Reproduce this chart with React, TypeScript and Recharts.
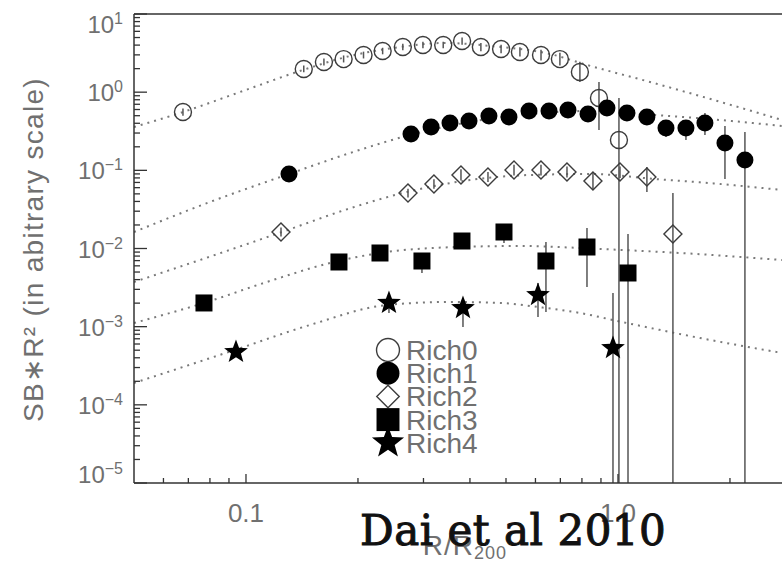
import { ComposedChart, Line, Scatter, XAxis, YAxis, ErrorBar } from "recharts";

const W = 782;
const H = 564;
const TOP = 14;
const BOTTOM = 483;
const FONT = '"Liberation Sans", Arial, sans-serif';
const GREY = "#707070";
const AXIS = "#333";
const MARK = "#3c3c3c";
const BAR = "#555";
const CURVE = "#7a7a7a";

// axis setup
const X_DOMAIN = [0.05, 2.76];
const Y_DOMAIN = [1e-5, 10];
const xTicks = [0.06, 0.07, 0.08, 0.09, 0.1, 0.2, 0.3, 0.4, 0.5, 0.6, 0.7, 0.8, 0.9, 1, 2];
const yDecades = [1e-5, 1e-4, 1e-3, 1e-2, 1e-1, 1, 10];
const mantissas = [1, 2, 3, 4, 5, 6, 7, 8, 9];
const yTicks = [...yDecades.slice(0, -1).flatMap((d) => mantissas.map((m) => d * m)), 10];

// measured profiles (SB*R^2 vs R/R200), with error bar bounds
const rich0R = [0.0677, 0.143, 0.162, 0.183, 0.207, 0.233, 0.264, 0.299, 0.339, 0.381, 0.428, 0.485, 0.545, 0.621, 0.698, 0.79, 0.889, 1.006];
const rich0Val = [0.557, 1.98, 2.43, 2.65, 2.99, 3.36, 3.78, 4.01, 4.01, 4.51, 3.78, 3.57, 3.27, 2.99, 2.65, 1.81, 0.842, 0.244];
const rich0Lo = [0.5, 1.8, 2.2, 2.4, 2.7, 3.05, 3.45, 3.65, 3.65, 4.05, 3.35, 3.15, 2.85, 2.55, 2.2, 1.35, 0.328, 1e-5];
const rich0Hi = [0.62, 2.2, 2.7, 2.95, 3.3, 3.7, 4.15, 4.4, 4.4, 5.0, 4.25, 4.05, 3.75, 3.5, 3.2, 2.45, 1.35, 0.84];

const rich1R = [0.1305, 0.2777, 0.3145, 0.3535, 0.3977, 0.4499, 0.5093, 0.5765, 0.6525, 0.7338, 0.8307, 0.934, 1.057, 1.196, 1.346, 1.523, 1.713, 1.939, 2.194];
const rich1Val = [0.0898, 0.2917, 0.3584, 0.4034, 0.4278, 0.4956, 0.4813, 0.5742, 0.5742, 0.5913, 0.5257, 0.6272, 0.5415, 0.4813, 0.3479, 0.348, 0.4034, 0.2239, 0.1356];
const rich1Lo = [0.082, 0.27, 0.33, 0.37, 0.39, 0.45, 0.44, 0.52, 0.52, 0.54, 0.48, 0.57, 0.49, 0.43, 0.267, 0.244, 0.283, 0.0775, 1e-5];
const rich1Hi = [0.098, 0.315, 0.39, 0.44, 0.47, 0.54, 0.525, 0.63, 0.63, 0.65, 0.58, 0.69, 0.6, 0.54, 0.4, 0.4, 0.5415, 0.369, 0.309];

const rich2R = [0.1242, 0.2726, 0.3201, 0.3784, 0.4472, 0.5254, 0.6209, 0.7293, 0.8565, 1.0125, 1.196, 1.405];
const rich2Val = [0.01626, 0.0513, 0.0669, 0.0872, 0.0822, 0.101, 0.101, 0.0952, 0.0731, 0.0952, 0.0822, 0.01533];
const rich2Lo = [0.0142, 0.045, 0.058, 0.074, 0.071, 0.086, 0.086, 0.081, 0.056, 0.08, 0.0529, 1e-5];
const rich2Hi = [0.0185, 0.058, 0.077, 0.103, 0.095, 0.118, 0.118, 0.112, 0.0952, 0.112, 0.11, 0.0513];

const rich3R = [0.0771, 0.1778, 0.2292, 0.2972, 0.3807, 0.4938, 0.6403, 0.8254, 1.064];
const rich3Val = [0.00201, 0.00672, 0.00876, 0.00692, 0.01247, 0.01626, 0.00692, 0.01045, 0.00486];
const rich3Lo = [0.00185, 0.0062, 0.0081, 0.00486, 0.0115, 0.0118, 0.00154, 0.00322, 1e-5];
const rich3Hi = [0.00218, 0.0073, 0.0095, 0.0076, 0.0135, 0.0175, 0.0121, 0.0183, 0.01533];

const rich4R = [0.094, 0.2423, 0.3831, 0.6095, 0.9695];
const rich4Val = [4.74e-4, 2.01e-3, 1.73e-3, 2.54e-3, 5.33e-4];
const rich4Lo = [4.3e-4, 1.5e-3, 9.9e-4, 1.33e-3, 1e-5];
const rich4Hi = [5.2e-4, 2.2e-3, 1.9e-3, 3.62e-3, 2.7e-3];

// dotted model curves
const model0R = [0.05, 0.0677, 0.0981, 0.1422, 0.1904, 0.2594, 0.3428, 0.4528, 0.6566, 0.8253, 1.219, 1.661, 2.76];
const model0Val = [0.358, 0.557, 1.035, 1.921, 2.9, 3.78, 4.26, 3.9, 3.08, 2.23, 1.35, 0.893, 0.441];
const model1R = [0.05, 0.08, 0.1305, 0.1904, 0.276, 0.4, 0.5799, 0.8409, 1.257, 1.88, 2.76];
const model1Val = [0.01626, 0.03936, 0.0898, 0.1666, 0.2832, 0.4154, 0.5257, 0.5743, 0.5105, 0.4406, 0.3692];
const model2R = [0.05, 0.0752, 0.125, 0.1845, 0.2709, 0.4, 0.5799, 0.8409, 1.257, 1.88, 2.76];
const model2Val = [0.003729, 0.007129, 0.01626, 0.0311, 0.05284, 0.07521, 0.0872, 0.0898, 0.0775, 0.0669, 0.056];
const model3R = [0.05, 0.0771, 0.116, 0.1682, 0.2292, 0.3693, 0.545, 0.8947, 1.468, 2.76];
const model3Val = [0.001114, 0.00201, 0.003842, 0.006527, 0.008763, 0.01045, 0.01076, 0.009856, 0.008763, 0.007129];
const model4R = [0.05, 0.0934, 0.1486, 0.2393, 0.3535, 0.4818, 0.6094, 0.7903, 1.025, 1.661, 2.76];
const model4Val = [1.903e-4, 5.04e-4, 1.051e-3, 1.894e-3, 2.069e-3, 2.01e-3, 1.785e-3, 1.496e-3, 1.148e-3, 7.16e-4, 4.61e-4];

type Kind = "openCircle" | "dot" | "openDiamond" | "square" | "star";

const SERIES: { name: string; kind: Kind; r: number[]; v: number[]; lo: number[]; hi: number[]; mr: number[]; mv: number[] }[] = [
  { name: "Rich0", kind: "openCircle", r: rich0R, v: rich0Val, lo: rich0Lo, hi: rich0Hi, mr: model0R, mv: model0Val },
  { name: "Rich1", kind: "dot", r: rich1R, v: rich1Val, lo: rich1Lo, hi: rich1Hi, mr: model1R, mv: model1Val },
  { name: "Rich2", kind: "openDiamond", r: rich2R, v: rich2Val, lo: rich2Lo, hi: rich2Hi, mr: model2R, mv: model2Val },
  { name: "Rich3", kind: "square", r: rich3R, v: rich3Val, lo: rich3Lo, hi: rich3Hi, mr: model3R, mv: model3Val },
  { name: "Rich4", kind: "star", r: rich4R, v: rich4Val, lo: rich4Lo, hi: rich4Hi, mr: model4R, mv: model4Val },
];

const points = (s: (typeof SERIES)[number]) =>
  s.r.map((x, i) => ({ x, y: s.v[i], err: [s.v[i] - s.lo[i], s.hi[i] - s.v[i]] }));
const curve = (s: (typeof SERIES)[number]) => s.mr.map((x, i) => ({ x, y: s.mv[i] }));

const isDecade = (v: number) => Math.abs(Math.log10(v) - Math.round(Math.log10(v))) < 1e-6;

function starPoints(cx: number, cy: number, R: number, r: number) {
  const pts: string[] = [];
  for (let i = 0; i < 10; i++) {
    const a = -Math.PI / 2 + (i * Math.PI) / 5;
    const rad = i % 2 === 0 ? R : r;
    pts.push(`${cx + rad * Math.cos(a)},${cy + rad * Math.sin(a)}`);
  }
  return pts.join(" ");
}

function Marker({ kind, cx, cy, k = 1 }: { kind: Kind; cx: number; cy: number; k?: number }) {
  if (kind === "openCircle") return <circle cx={cx} cy={cy} r={8.5 * k} fill="none" stroke={MARK} strokeWidth={1.4} />;
  if (kind === "dot") return <circle cx={cx} cy={cy} r={8.5 * k} fill="#000" />;
  if (kind === "openDiamond") {
    const d = 9 * k;
    return <polygon points={`${cx},${cy - d} ${cx + d},${cy} ${cx},${cy + d} ${cx - d},${cy}`} fill="none" stroke={MARK} strokeWidth={1.4} />;
  }
  if (kind === "square") {
    const h = 8.5 * k;
    return <rect x={cx - h} y={cy - h} width={2 * h} height={2 * h} fill="#000" />;
  }
  return <polygon points={starPoints(cx, cy, 12.5 * k, 5.2 * k)} fill="#000" />;
}

function BottomTick(p: any) {
  const { x, y } = p;
  const v = p.payload.value;
  const major = isDecade(v);
  return (
    <g>
      <line x1={x} x2={x} y1={y} y2={y - (major ? 9 : 5)} stroke={AXIS} strokeWidth={1.3} />
      {major ? (
        <text x={x} y={y + 39} textAnchor="middle" fill={GREY} fontSize={26} fontFamily={FONT}>
          {v.toFixed(1)}
        </text>
      ) : null}
    </g>
  );
}

function TopTick(p: any) {
  const { x, y } = p;
  const major = isDecade(p.payload.value);
  return <line x1={x} x2={x} y1={y} y2={y + (major ? 9 : 5)} stroke={AXIS} strokeWidth={1.3} />;
}

function LeftTick(p: any) {
  const { x, y } = p;
  const v = p.payload.value;
  const major = isDecade(v);
  const e = Math.round(Math.log10(v));
  const base = Math.min(Math.max(y + 9, TOP + 19), BOTTOM);
  return (
    <g>
      <line x1={x} x2={x + (major ? 13 : 6)} y1={y} y2={y} stroke={AXIS} strokeWidth={1.3} />
      {major ? (
        <text x={x - 11} y={base} textAnchor="end" fill={GREY} fontSize={24} fontFamily={FONT}>
          10
          <tspan dy={-9} fontSize={16}>
            {e < 0 ? "\u2212" + Math.abs(e) : String(e)}
          </tspan>
        </text>
      ) : null}
    </g>
  );
}

const yTitle = (p: any) => {
  const vb = p.viewBox;
  const cx = 43;
  const cy = vb.y + vb.height / 2 + 1;
  return (
    <text x={cx} y={cy} transform={`rotate(-90 ${cx} ${cy})`} textAnchor="middle" fill={GREY} fontSize={28} fontFamily={FONT} letterSpacing={1.3}>
      SB{"\u2217"}R² (in abitrary scale)
    </text>
  );
};

const xTitle = (p: any) => {
  const vb = p.viewBox;
  return (
    <text x={vb.x + vb.width / 2 + 7} y={vb.y + 72} textAnchor="middle" fill={GREY} fontSize={28} fontFamily={FONT} letterSpacing={1}>
      R/R
      <tspan fontSize={18} dy={4}>
        200
      </tspan>
    </text>
  );
};

export default function App() {
  return (
    <div style={{ position: "absolute", left: 0, top: 0, width: W, height: H, background: "#fff", overflow: "hidden" }}>
      <ComposedChart width={W} height={H} margin={{ top: TOP, right: 0, bottom: 0, left: 0 }}>
        <XAxis
          xAxisId="b"
          dataKey="x"
          type="number"
          scale="log"
          domain={X_DOMAIN}
          allowDataOverflow
          ticks={xTicks}
          interval={0}
          height={H - BOTTOM}
          tickSize={0}
          tickMargin={0}
          tickLine={false}
          axisLine={{ stroke: AXIS, strokeWidth: 1.5 }}
          tick={<BottomTick />}
          label={xTitle}
        />
        <XAxis
          xAxisId="t"
          orientation="top"
          mirror
          type="number"
          scale="log"
          domain={X_DOMAIN}
          allowDataOverflow
          ticks={xTicks}
          interval={0}
          height={1}
          tickSize={0}
          tickMargin={0}
          tickLine={false}
          axisLine={{ stroke: AXIS, strokeWidth: 1.5 }}
          tick={<TopTick />}
        />
        <YAxis
          yAxisId="l"
          dataKey="y"
          type="number"
          scale="log"
          domain={Y_DOMAIN}
          allowDataOverflow
          ticks={yTicks}
          interval={0}
          width={134}
          tickSize={0}
          tickMargin={0}
          tickLine={false}
          axisLine={{ stroke: AXIS, strokeWidth: 1.5 }}
          tick={<LeftTick />}
          label={yTitle}
        />
        {SERIES.map((s) => (
          <Line
            key={"m" + s.name}
            xAxisId="b"
            yAxisId="l"
            data={curve(s)}
            dataKey="y"
            type="monotone"
            stroke={CURVE}
            strokeWidth={2}
            strokeDasharray="2 5"
            dot={false}
            activeDot={false}
            legendType="none"
            isAnimationActive={false}
          />
        ))}
        {SERIES.map((s) => (
          <Scatter
            key={s.name}
            name={s.name}
            xAxisId="b"
            yAxisId="l"
            data={points(s)}
            isAnimationActive={false}
            shape={(p: any) => <Marker kind={s.kind} cx={p.cx} cy={p.cy} />}
          >
            <ErrorBar dataKey="err" direction="y" width={0} stroke={BAR} strokeWidth={1.5} isAnimationActive={false} />
          </Scatter>
        ))}
      </ComposedChart>
      <svg width={W} height={H} style={{ position: "absolute", left: 0, top: 0, pointerEvents: "none" }}>
        {SERIES.map((s, i) => {
          const cy = 350 + i * 23.2;
          return (
            <g key={s.name}>
              <Marker kind={s.kind} cx={388} cy={cy} k={s.kind === "openDiamond" ? 1.25 : 1.35} />
              <text x={406} y={cy + 10} fill={GREY} fontSize={28} fontFamily={FONT}>
                {s.name}
              </text>
            </g>
          );
        })}
        <text
          x={360}
          y={545}
          fill="#111"
          stroke="#111"
          strokeWidth={1}
          letterSpacing={0.5}
          fontSize={42}
          fontFamily='"DejaVu Serif", serif'
        >
          Dai et al 2010
        </text>
      </svg>
    </div>
  );
}
